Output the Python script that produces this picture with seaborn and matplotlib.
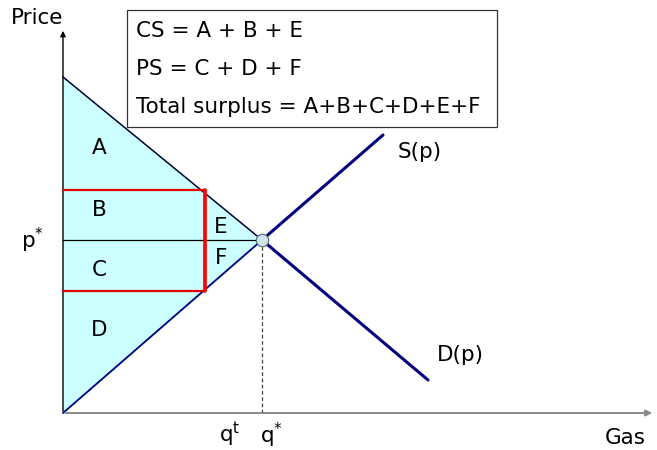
import numpy as np
import pandas as pd
import matplotlib
matplotlib.use("Agg")
import matplotlib.pyplot as plt
import seaborn as sns

# economic diagram values (quantity, price) in chart units
demand_q = [0, 365]
demand_p = [336, 33]
supply_q = [0, 320]
supply_p = [0, 278]
q_star = 199
p_star = 173
q_t = 142
p_low = 122
p_high = 223
area_labels = ["A", "B", "C", "D", "E", "F"]
area_q = [36, 36, 36, 36, 158, 158]
area_p = [265, 203, 143, 83, 186, 155]
box_lines = ["CS = A + B + E", "PS = C + D + F", "Total surplus = A+B+C+D+E+F"]

sns.set_style("white")
plt.rcParams["font.family"] = ["DejaVu Sans"]
plt.rcParams["text.color"] = "black"

fig = plt.figure(figsize=(6.57, 4.5), dpi=100)
ax = fig.add_axes([0, 0, 1, 1])
ax.set_xlim(-63, 594)
ax.set_ylim(-37, 413)
ax.axis("off")

navy = "#000080"

# surplus triangle left of equilibrium
d_at = lambda q: demand_p[0] + (demand_p[1] - demand_p[0]) * q / demand_q[1]
s_at = lambda q: supply_p[0] + (supply_p[1] - supply_p[0]) * q / supply_q[1]
qs = np.array([0, q_star])
ax.fill_between(qs, [s_at(0), p_star], [d_at(0), p_star], color="#ccffff", zorder=1)

# demand and supply curves
dem = pd.DataFrame({"q": [q_star, demand_q[1]], "p": [p_star, demand_p[1]]})
sup = pd.DataFrame({"q": [q_star, supply_q[1]], "p": [p_star, supply_p[1]]})
sns.lineplot(data=dem, x="q", y="p", ax=ax, color=navy, lw=2.2, zorder=3)
sns.lineplot(data=sup, x="q", y="p", ax=ax, color=navy, lw=2.2, zorder=3)
ax.plot([0, q_star], [demand_p[0], p_star], color="#000033", lw=1.1, zorder=3)
ax.plot([0, q_star], [supply_p[0], p_star], color=navy, lw=1.3, zorder=3)

# price line and quantity marker
ax.plot([0, q_star], [p_star, p_star], color="black", lw=0.9, zorder=2)
ax.plot([q_star, q_star], [0, p_star], color="#444444", lw=0.9, ls=(0, (3, 2)), zorder=2)

# tax wedge rectangle
ax.plot([0, q_t, q_t, 0], [p_high, p_high, p_low, p_low], color="#e00000", lw=1.6, zorder=4)
ax.plot([q_t, q_t], [p_low, p_high], color="#ff0000", lw=2.6, zorder=4)

# equilibrium dot
ax.scatter([q_star], [p_star], s=80, color="#cce6e6", edgecolor="#556677", lw=0.8, zorder=5)

# axes with arrows
ax.annotate("", xy=(592, 0), xytext=(0, 0),
            arrowprops=dict(arrowstyle="-|>", color="#888888", lw=1.4, mutation_scale=9))
ax.annotate("", xy=(0, 385), xytext=(0, -1),
            arrowprops=dict(arrowstyle="-|>", color="black", lw=1.0, mutation_scale=8))

fs = 15.5
ax.text(-26, 395, "Price", fontsize=fs, ha="center", va="center")
ax.text(562, -25, "Gas", fontsize=fs, ha="center", va="center")
ax.text(-31, p_star, "p$^{*}$", fontsize=fs, ha="center", va="center")
ax.text(q_t + 25, -22, "q$^{\\mathrm{t}}$", fontsize=fs, ha="center", va="center")
ax.text(q_star + 9, -22, "q$^{*}$", fontsize=fs, ha="center", va="center")
ax.text(357, 261, "S(p)", fontsize=fs, ha="center", va="center")
ax.text(397, 58, "D(p)", fontsize=fs, ha="center", va="center")
for lab, q, p in zip(area_labels, area_q, area_p):
    ax.text(q, p, lab, fontsize=fs, ha="center", va="center", zorder=6)

# summary box
ax.add_patch(plt.Rectangle((64, 286), 370, 117, fill=True, facecolor="white",
                           edgecolor="#333333", lw=0.9, zorder=6))
for i, line in enumerate(box_lines):
    ax.text(73, 382 - i * 38, line, fontsize=fs, ha="left", va="center", zorder=7)

fig.savefig("out.png", dpi=100)
